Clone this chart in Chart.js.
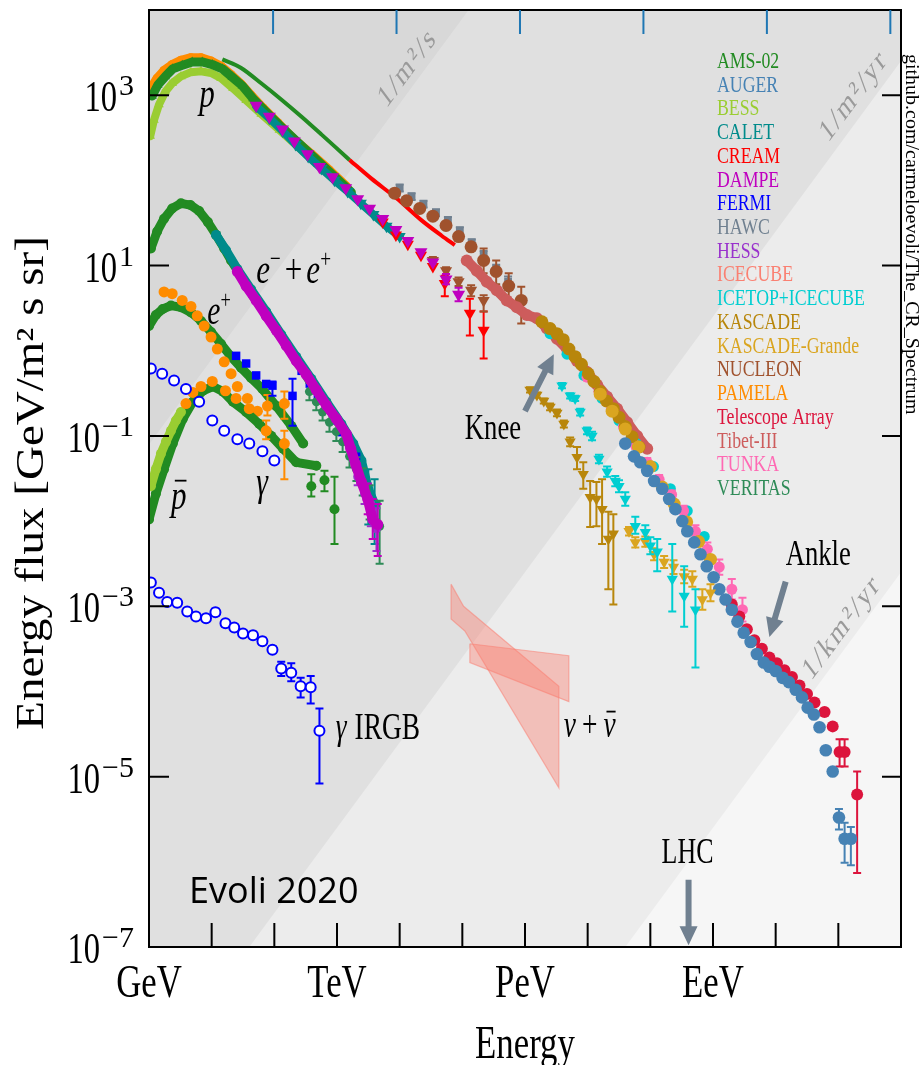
<!DOCTYPE html>
<html>
<head>
<meta charset="utf-8">
<title>The cosmic-ray spectrum</title>
<script src="https://cdn.jsdelivr.net/npm/chart.js@4.4.1/dist/chart.umd.min.js"></script>
<style>
  html, body { margin: 0; padding: 0; background: #fff; }
  canvas { display: block; }
</style>
</head>
<body>
<canvas id="chart" width="920" height="1065"></canvas>
<script>
// every value below is a log10: energy in GeV, energy flux E^2 J in GeV / m^2 s sr

// constant-rate lines (1/m^2/s, 1/m^2/yr, 1/km^2/yr), two end points each
const bandEdgeE = [-3, 14];
const edgeSecondF = [-4.1, 12.9];
const edgeYearF = [-11.6, 5.4];
const edgeKmYearF = [-17.6, -0.6];

// protons
const pamelaP_E = [0.03, 0.13, 0.24, 0.37, 0.51, 0.67, 0.83, 0.99, 1.15, 1.31, 1.47, 1.63, 1.82, 2.05, 2.30, 2.59, 2.88, 3.15];
const pamelaP_F = [3.08, 3.20, 3.29, 3.36, 3.41, 3.44, 3.44, 3.40, 3.34, 3.24, 3.13, 3.00, 2.85, 2.68, 2.49, 2.31, 2.12, 1.93];
const amsP_E = [0.05, 0.14, 0.26, 0.38, 0.53, 0.69, 0.85, 1.01, 1.17, 1.33, 1.49, 1.66, 1.86, 2.08, 2.34, 2.62, 2.91, 3.23];
const amsP_F = [2.99, 3.12, 3.22, 3.31, 3.35, 3.39, 3.39, 3.36, 3.31, 3.21, 3.11, 2.96, 2.81, 2.65, 2.47, 2.28, 2.08, 1.86];
const bessP_E = [0.02, 0.08, 0.16, 0.26, 0.37, 0.51, 0.67, 0.83, 0.99, 1.15, 1.34, 1.55, 1.79, 2.08, 2.40, 2.69];
const bessP_F = [2.52, 2.71, 2.89, 3.04, 3.14, 3.22, 3.27, 3.28, 3.26, 3.20, 3.08, 2.94, 2.78, 2.59, 2.38, 2.19];
const caletP_E = [1.71, 1.92, 2.13, 2.34, 2.54, 2.75, 2.96, 3.17, 3.38, 3.58, 3.79, 4.0];
const caletP_F = [2.87, 2.73, 2.58, 2.42, 2.28, 2.14, 2.0, 1.87, 1.73, 1.6, 1.46, 1.34];
const dampeP_E = [1.71, 1.92, 2.13, 2.32, 2.53, 2.72, 2.93, 3.14, 3.33, 3.52, 3.73, 3.94, 4.13, 4.34, 4.53, 4.74, 4.94];
const dampeP_F = [2.88, 2.75, 2.6, 2.46, 2.31, 2.16, 2.04, 1.91, 1.78, 1.67, 1.55, 1.42, 1.29, 1.16, 1.04, 0.84, 0.66];
const dampeP_hi = [null, null, null, null, null, null, null, null, null, null, null, null, null, null, null, 0.90, 0.74];
const dampeP_lo = [null, null, null, null, null, null, null, null, null, null, null, null, null, null, null, 0.78, 0.58];
const creamP_E = [3.73, 3.94, 4.13, 4.34, 4.53, 4.72, 5.12, 5.34];
const creamP_F = [1.51, 1.36, 1.25, 1.12, 0.99, 0.79, 0.44, 0.24];
const creamP_hi = [null, null, null, null, null, 0.88, 0.61, 0.46];
const creamP_lo = [null, null, null, null, null, 0.64, 0.18, -0.09];
const nucleonP_E = [4.53, 4.74, 4.94, 5.14, 5.34];
const nucleonP_F = [1.06, 0.94, 0.81, 0.71, 0.59];
const nucleonP_hi = [1.1, 0.98, 0.86, 0.77, 0.65];
const nucleonP_lo = [1.02, 0.9, 0.76, 0.64, 0.46];

// all-particle
const amsAll_E = [1.17, 1.47, 1.79, 2.11, 2.43, 2.75, 3.2];
const amsAll_F = [3.42, 3.32, 3.14, 2.95, 2.75, 2.54, 2.24];
const creamAll_E = [3.2, 3.55, 3.95, 4.35, 4.67, 4.88];
const creamAll_F = [2.24, 2.02, 1.79, 1.53, 1.35, 1.24];
const hawc_E = [4.0, 4.19, 4.38, 4.58, 4.77, 4.96, 5.15, 5.34, 5.54, 5.73];
const hawc_F = [1.91, 1.81, 1.72, 1.62, 1.53, 1.41, 1.27, 1.12, 0.96, 0.81];
const hawc_hi = [1.95, 1.85, 1.76, 1.66, 1.57, 1.45, 1.31, 1.17, 1.01, 0.87];
const hawc_lo = [1.87, 1.77, 1.68, 1.58, 1.49, 1.37, 1.23, 1.07, 0.91, 0.75];
const nucleonAll_E = [3.92, 4.11, 4.32, 4.53, 4.74, 4.94, 5.14, 5.34, 5.54, 5.74, 5.94];
const nucleonAll_F = [1.85, 1.76, 1.67, 1.58, 1.47, 1.34, 1.22, 1.06, 0.93, 0.76, 0.59];
const nucleonAll_hi = [null, null, null, null, null, null, null, 1.2, 1.06, 0.91, 0.75];
const nucleonAll_lo = [null, null, null, null, null, null, null, 0.91, 0.78, 0.59, 0.32];
const tibet_E = [5.07, 5.23, 5.39, 5.55, 5.71, 5.87, 6.03, 6.19, 6.35, 6.51, 6.67, 6.83, 6.99, 7.15, 7.31, 7.47, 7.63, 7.79, 7.95];
const tibet_F = [1.06, 0.94, 0.81, 0.71, 0.59, 0.51, 0.42, 0.38, 0.26, 0.14, 0.02, -0.12, -0.25, -0.40, -0.54, -0.68, -0.84, -1.0, -1.15];
const kascade_E = [6.27, 6.4, 6.51, 6.61, 6.7, 6.8, 6.9, 7.01, 7.1, 7.2, 7.3, 7.41, 7.5, 7.6, 7.71, 7.82];
const kascade_F = [0.34, 0.26, 0.2, 0.13, 0.02, -0.07, -0.16, -0.27, -0.36, -0.48, -0.59, -0.68, -0.78, -0.89, -1.01, -1.13];
const grande_E = [7.2, 7.39, 7.6, 7.81, 8.0, 8.19, 8.38, 8.58, 8.77, 8.96];
const grande_F = [-0.51, -0.71, -0.92, -1.13, -1.36, -1.6, -1.8, -2.01, -2.24, -2.45];
const tunka_E = [6.99, 7.18, 7.38, 7.57, 7.76, 7.95, 8.14, 8.34, 8.53, 8.72, 8.91, 9.1, 9.3, 9.47];
const tunka_F = [-0.31, -0.48, -0.68, -0.89, -1.11, -1.31, -1.51, -1.69, -1.88, -2.12, -2.33, -2.54, -2.8, -3.04];
const tunka_hi = [-0.27, -0.44, -0.64, -0.85, -1.07, -1.26, -1.46, -1.64, -1.82, -2.05, -2.25, -2.45, -2.68, -2.9];
const tunka_lo = [-0.35, -0.52, -0.72, -0.93, -1.15, -1.36, -1.56, -1.74, -1.94, -2.19, -2.41, -2.63, -2.92, -3.18];
const icetop_E = [6.4, 6.67, 6.94, 7.23, 7.5, 7.78, 8.05, 8.32, 8.59, 8.86];
const icetop_F = [0.2, -0.04, -0.29, -0.56, -0.82, -1.09, -1.36, -1.62, -1.88, -2.18];
const auger_E = [7.6, 7.74, 7.84, 7.95, 8.06, 8.19, 8.3, 8.4, 8.51, 8.59, 8.7, 8.8, 8.9, 9.01, 9.1, 9.2, 9.3, 9.39, 9.49, 9.6,
  9.7, 9.81, 9.9, 10.0, 10.11, 10.21, 10.32, 10.42, 10.51, 10.61, 10.7, 10.8, 10.91, 11.01, 11.1, 11.2];
const auger_F = [-1.09, -1.24, -1.31, -1.41, -1.53, -1.62, -1.74, -1.86, -2.0, -2.12, -2.25, -2.39, -2.53, -2.66, -2.8, -2.92, -3.04, -3.18, -3.31, -3.42,
  -3.56, -3.66, -3.71, -3.76, -3.84, -3.89, -3.98, -4.07, -4.19, -4.27, -4.42, -4.69, -4.94, -5.48, -5.73, -5.73];
const auger_hi = [null, null, null, null, null, null, null, null, null, null, null, null, null, null, null, null, null, null, null, null,
  null, null, null, null, null, null, null, null, null, null, null, null, null, -5.38, -5.54, -5.59];
const auger_lo = [null, null, null, null, null, null, null, null, null, null, null, null, null, null, null, null, null, null, null, null,
  null, null, null, null, null, null, null, null, null, null, null, null, null, -5.62, -6.01, -6.04];
const ta_E = [9.3, 9.42, 9.54, 9.66, 9.78, 9.9, 10.02, 10.14, 10.26, 10.38, 10.5, 10.62, 10.78, 10.91, 11.02, 11.1, 11.3];
const ta_F = [-2.98, -3.12, -3.27, -3.4, -3.5, -3.6, -3.67, -3.75, -3.83, -3.93, -4.03, -4.13, -4.24, -4.41, -4.71, -4.71, -5.21];
const ta_hi = [null, null, null, null, null, null, null, null, null, null, null, null, null, null, -4.56, -4.56, -4.94];
const ta_lo = [null, null, null, null, null, null, null, null, null, null, null, null, null, null, -4.88, -4.88, -6.13];

// light component around the knee
const kascadeL_E = [6.08, 6.19, 6.3, 6.4, 6.51, 6.62, 6.72, 6.83, 6.93, 7.04, 7.14, 7.23, 7.33, 7.41];
const kascadeL_F = [-0.46, -0.52, -0.59, -0.66, -0.73, -0.86, -1.07, -1.25, -1.45, -1.72, -1.74, -1.86, -2.21, -2.15];
const kascadeL_hi = [-0.43, -0.49, -0.56, -0.62, -0.69, -0.82, -1.02, -1.13, -1.31, -1.53, -1.54, -1.51, -1.89, -1.92];
const kascadeL_lo = [-0.49, -0.55, -0.62, -0.7, -0.77, -0.9, -1.12, -1.39, -1.62, -2.07, -2.06, -2.27, -2.8, -2.98];
const grandeL_E = [7.66, 7.76, 7.92, 8.06, 8.22, 8.37, 8.54, 8.67, 8.83, 8.96];
const grandeL_F = [-2.12, -2.25, -2.24, -2.39, -2.48, -2.54, -2.65, -2.68, -2.92, -2.84];
const grandeL_hi = [-2.07, -2.19, -2.18, -2.32, -2.41, -2.46, -2.57, -2.59, -2.8, -2.74];
const grandeL_lo = [-2.17, -2.31, -2.30, -2.46, -2.55, -2.62, -2.73, -2.77, -3.04, -2.94];
const icetopL_E = [6.59, 6.72, 6.8, 6.88, 6.99, 7.07, 7.18, 7.31, 7.44, 7.5, 7.6, 7.76, 7.92, 8.0, 8.11, 8.35, 8.54, 8.72];
const icetopL_F = [-0.41, -0.53, -0.56, -0.72, -0.94, -1.0, -1.27, -1.42, -1.53, -1.59, -1.74, -2.06, -2.13, -2.29, -2.36, -2.68, -2.88, -3.04];
const icetopL_hi = [-0.38, -0.5, -0.53, -0.68, -0.9, -0.95, -1.22, -1.36, -1.47, -1.52, -1.66, -1.95, -2.05, -2.19, -2.21, -2.27, -2.53, -2.8];
const icetopL_lo = [-0.44, -0.56, -0.59, -0.76, -0.98, -1.05, -1.32, -1.48, -1.59, -1.66, -1.82, -2.15, -2.21, -2.39, -2.59, -3.06, -3.24, -3.72];

// electrons + positrons
const amsEE_E = [0.03, 0.13, 0.24, 0.37, 0.51, 0.66, 0.8, 0.94, 1.07, 1.2, 1.31, 1.49, 1.66, 1.86, 2.06, 2.3, 2.54, 2.78, 3.02];
const amsEE_F = [1.2, 1.4, 1.55, 1.67, 1.73, 1.71, 1.64, 1.51, 1.36, 1.2, 1.06, 0.85, 0.65, 0.44, 0.21, -0.05, -0.32, -0.58, -0.84];
const caletEE_E = [1.07, 1.23, 1.41, 1.63, 1.87, 2.11, 2.35, 2.59, 2.83, 3.07, 3.26, 3.39, 3.5, 3.6];
const caletEE_F = [1.36, 1.18, 0.96, 0.72, 0.46, 0.19, -0.07, -0.33, -0.6, -0.86, -1.09, -1.29, -1.62, -1.8];
const caletEE_hi = [null, null, null, null, null, null, null, null, null, null, null, null, -1.39, -1.51];
const caletEE_lo = [null, null, null, null, null, null, null, null, null, null, null, null, -2.04, -2.27];
const dampeEE_E = [1.41, 1.55, 1.71, 1.87, 2.03, 2.19, 2.35, 2.51, 2.67, 2.83, 2.99, 3.15, 3.22, 3.3, 3.39, 3.49, 3.57, 3.65];
const dampeEE_F = [0.93, 0.76, 0.59, 0.41, 0.24, 0.06, -0.12, -0.28, -0.46, -0.64, -0.8, -0.98, -1.15, -1.34, -1.54, -1.74, -1.98, -2.04];
const dampeEE_hi = [null, null, null, null, null, null, null, null, null, null, null, null, null, null, null, -1.56, -1.74, -1.8];
const dampeEE_lo = [null, null, null, null, null, null, null, null, null, null, null, null, null, null, null, -1.92, -2.21, -2.41];
const fermiEE_E = [2.43, 2.56, 2.69, 2.82, 2.94, 3.07, 3.2, 3.31];
const fermiEE_F = [-0.24, -0.39, -0.53, -0.68, -0.82, -0.96, -1.11, -1.24];
const hessEE_E = [3.33, 3.44, 3.54, 3.63];
const hessEE_F = [-1.48, -1.68, -1.92, -2.09];
const hessEE_hi = [-1.38, -1.56, -1.78, -1.85];
const hessEE_lo = [-1.58, -1.8, -2.06, -2.35];
const veritasEE_E = [2.56, 2.67, 2.77, 2.88, 2.99, 3.09, 3.2, 3.31, 3.41, 3.52, 3.68];
const veritasEE_F = [-0.48, -0.6, -0.72, -0.84, -0.95, -1.07, -1.24, -1.39, -1.54, -1.78, -2.06];
const veritasEE_hi = [-0.38, -0.5, -0.62, -0.73, -0.84, -0.95, -1.11, -1.25, -1.38, -1.58, -1.76];
const veritasEE_lo = [-0.58, -0.7, -0.82, -0.95, -1.06, -1.19, -1.37, -1.53, -1.7, -1.98, -2.5];

// positrons
const pamelaPos_E = [0.24, 0.37, 0.53, 0.67, 0.77, 0.88, 0.99, 1.09, 1.2, 1.31, 1.41, 1.57, 1.73, 1.89, 2.16];
const pamelaPos_F = [0.69, 0.67, 0.59, 0.52, 0.41, 0.29, 0.16, 0.02, -0.13, -0.27, -0.42, -0.56, -0.71, -0.65, -0.62];
const pamelaPos_hi = [null, null, null, null, null, null, null, null, null, null, null, null, null, -0.52, -0.48];
const pamelaPos_lo = [null, null, null, null, null, null, null, null, null, null, null, null, null, -0.76, -0.8];
const amsPos_E = [0.0, 0.11, 0.22, 0.35, 0.51, 0.67, 0.83, 0.99, 1.15, 1.31, 1.47, 1.63, 1.81, 2.03, 2.27, 2.46];
const amsPos_F = [0.29, 0.42, 0.49, 0.53, 0.51, 0.45, 0.35, 0.22, 0.08, -0.07, -0.2, -0.32, -0.45, -0.65, -0.88, -1.09];
const amsPosHigh_E = [2.59, 2.8, 2.96];
const amsPosHigh_F = [-1.59, -1.52, -1.86];
const amsPosHigh_hi = [-1.45, -1.41, -1.48];
const amsPosHigh_lo = [-1.71, -1.65, -2.27];
const fermiPos_E = [1.39, 1.55, 1.71, 1.87, 1.97, 2.29];
const fermiPos_F = [-0.06, -0.15, -0.29, -0.39, -0.41, -0.53];
const fermiPos_hi = [null, null, null, null, -0.36, -0.33];
const fermiPos_lo = [null, null, null, null, -0.53, -0.88];

// antiprotons
const bessPbar_E = [0.03, 0.11, 0.19, 0.27, 0.35, 0.43, 0.51];
const bessPbar_F = [-1.59, -1.39, -1.21, -1.07, -0.94, -0.82, -0.72];
const pamelaPbar_E = [0.59, 0.7, 0.83, 1.01, 1.22, 1.39, 1.6, 1.87, 2.16];
const pamelaPbar_F = [-0.62, -0.49, -0.42, -0.36, -0.47, -0.56, -0.68, -0.94, -1.09];
const pamelaPbar_hi = [null, null, null, null, null, null, null, -0.82, -0.94];
const pamelaPbar_lo = [null, null, null, null, null, null, null, -1.04, -1.51];
const amsPbar_E = [0, 0.11, 0.24, 0.38, 0.54, 0.7, 0.86, 1.02, 1.18, 1.34, 1.55, 1.76, 1.95, 2.14, 2.35, 2.67];
const amsPbar_F = [-1.98, -1.68, -1.39, -1.09, -0.8, -0.6, -0.47, -0.42, -0.48, -0.6, -0.72, -0.86, -1.0, -1.15, -1.31, -1.35];

// gamma rays
const fermiGamma_E = [0.03, 0.21, 0.4, 0.59, 0.8, 1.01, 1.2, 1.41, 1.6, 1.81, 2.0];
const fermiGamma_F = [-0.21, -0.27, -0.35, -0.45, -0.6, -0.82, -0.94, -1.04, -1.09, -1.18, -1.29];
const irgb_E = [0.03, 0.16, 0.29, 0.45, 0.61, 0.75, 0.91, 1.06, 1.22, 1.36, 1.5, 1.66, 1.81, 1.97, 2.11, 2.27, 2.42, 2.58, 2.72];
const irgb_F = [-2.72, -2.84, -2.95, -2.96, -3.06, -3.12, -3.14, -3.07, -3.2, -3.25, -3.32, -3.34, -3.41, -3.51, -3.73, -3.78, -3.94, -3.95, -4.46];
const irgb_hi = [-2.68, -2.8, -2.91, -2.92, -3.02, -3.08, -3.1, -3.03, -3.16, -3.21, -3.28, -3.3, -3.37, -3.47, -3.65, -3.67, -3.84, -3.82, -4.2];
const irgb_lo = [-2.76, -2.88, -2.99, -3.0, -3.1, -3.16, -3.18, -3.11, -3.24, -3.29, -3.36, -3.38, -3.45, -3.55, -3.82, -3.88, -4.07, -4.14, -5.08];

// neutrino bands (closed outlines)
const nuA_E = [4.82, 5.02, 6.54, 6.54, 5.04, 4.82, 4.82];
const nuA_F = [-2.74, -3.0, -3.94, -5.13, -3.29, -3.15, -2.74];
const nuB_E = [5.12, 6.7, 6.7, 5.12, 5.12];
const nuB_F = [-3.44, -3.58, -4.12, -3.66, -3.44];

// axes
const xTickDecades = [1, 2, 3, 4, 5, 6, 7, 8, 9, 10, 11];
const xLabelDecades = [0, 3, 6, 9];
const xLabels = ['GeV', 'TeV', 'PeV', 'EeV'];
const yTickDecades = [-7, -5, -3, -1, 1, 3];
const topTickDecades = [1.98, 3.95, 5.92, 7.89, 9.86, 11.83];

const legendNames = ['AMS-02', 'AUGER', 'BESS', 'CALET', 'CREAM', 'DAMPE', 'FERMI', 'HAWC', 'HESS', 'ICECUBE',
  'ICETOP+ICECUBE', 'KASCADE', 'KASCADE-Grande', 'NUCLEON', 'PAMELA', 'Telescope Array', 'Tibet-III', 'TUNKA', 'VERITAS'];
const legendColors = ['#228b22', '#4682b4', '#9acd32', '#008b8b', '#ff0000', '#bf00bf', '#0000ff', '#708090', '#9932cc', '#fa8072',
  '#00ced1', '#b8860b', '#daa520', '#a0522d', '#ff8c00', '#dc143c', '#cd5c5c', '#ff69b4', '#2e8b57'];
const col = Object.fromEntries(legendNames.map((n, i) => [n, legendColors[i]]));

const rateLabels = ['1/m²/s', '1/m²/yr', '1/km²/yr'];
const rateLabelAt = [[4.13, 3.32], [11.25, 2.99], [11.06, -3.25]];

const arrowTail = [[6.0, -0.71], [10.16, -2.71], [8.61, -6.21]];
const arrowTip = [[6.46, -0.04], [9.9, -3.36], [8.61, -6.98]];

const SQ = 0.74;
const SERIF = '"Liberation Serif", "Times New Roman", serif';

const datasets = [];
const xy = (lgE, lgF) => lgE.map((e, i) => ({ x: 10 ** e, y: 10 ** lgF[i] }));

function band(lgF, color) {
  datasets.push({ data: xy(bandEdgeE, lgF), showLine: true, fill: 'end', backgroundColor: color,
    borderColor: 'rgba(0,0,0,0)', borderWidth: 0, pointRadius: 0 });
}
function outline(lgE, lgF) {
  datasets.push({ data: xy(lgE, lgF), showLine: true, fill: 'shape', backgroundColor: 'rgba(250,128,114,0.42)',
    borderColor: 'rgba(250,128,114,0.55)', borderWidth: 1.2, pointRadius: 0 });
}
function curve(lgE, lgF, color, width) {
  datasets.push({ data: xy(lgE, lgF), showLine: true, fill: false, borderColor: color, borderWidth: width,
    tension: 0.3, pointRadius: 0, borderCapStyle: 'butt' });
}
function marks(lgE, lgF, color, o = {}) {
  datasets.push({
    data: xy(lgE, lgF),
    showLine: !!o.line, borderWidth: o.line || 0, borderColor: color, fill: false,
    borderJoinStyle: 'round', borderCapStyle: 'round',
    pointStyle: o.shape || 'circle', pointRotation: o.down ? 180 : 0,
    pointRadius: o.r || 5,
    pointBackgroundColor: o.open ? '#fff' : color,
    pointBorderColor: color, pointBorderWidth: o.open ? 2 : 0,
    errHi: o.hi, errLo: o.lo
  });
}

// shaded bands, darkest last
band(edgeKmYearF, '#ececec');
band(edgeYearF, '#e0e0e0');
band(edgeSecondF, '#d8d8d8');

outline(nuA_E, nuA_F);
outline(nuB_E, nuB_F);

curve(amsAll_E, amsAll_F, col['AMS-02'], 4);
curve(creamAll_E, creamAll_F, col['CREAM'], 4);

marks(pamelaP_E, pamelaP_F, col['PAMELA'], { r: 4.5, line: 9 });
marks(bessP_E, bessP_F, col['BESS'], { shape: 'triangle', r: 5.5, line: 8 });
marks(amsP_E, amsP_F, col['AMS-02'], { shape: 'triangle', r: 5.5, line: 9 });
marks(caletP_E, caletP_F, col['CALET'], { shape: 'triangle', down: true, r: 7, line: 8 });
marks(creamP_E, creamP_F, col['CREAM'], { shape: 'triangle', down: true, r: 7, hi: creamP_hi, lo: creamP_lo });
marks(nucleonP_E, nucleonP_F, col['NUCLEON'], { shape: 'triangle', down: true, r: 7, hi: nucleonP_hi, lo: nucleonP_lo });
marks(dampeP_E, dampeP_F, col['DAMPE'], { shape: 'triangle', down: true, r: 7.5, hi: dampeP_hi, lo: dampeP_lo });

marks(hawc_E, hawc_F, col['HAWC'], { shape: 'rect', r: 5.5, hi: hawc_hi, lo: hawc_lo });
marks(nucleonAll_E, nucleonAll_F, col['NUCLEON'], { r: 6.5, hi: nucleonAll_hi, lo: nucleonAll_lo });
marks(tibet_E, tibet_F, col['Tibet-III'], { r: 6, line: 10 });
marks(icetop_E, icetop_F, col['ICETOP+ICECUBE'], { r: 5.5 });
marks(tunka_E, tunka_F, col['TUNKA'], { r: 5.5, hi: tunka_hi, lo: tunka_lo });
marks(kascade_E, kascade_F, col['KASCADE'], { r: 6.5 });
marks(grande_E, grande_F, col['KASCADE-Grande'], { r: 6.5 });
marks(ta_E, ta_F, col['Telescope Array'], { r: 6, hi: ta_hi, lo: ta_lo });
marks(auger_E, auger_F, col['AUGER'], { r: 6.3, hi: auger_hi, lo: auger_lo });

marks(kascadeL_E, kascadeL_F, col['KASCADE'], { shape: 'triangle', down: true, r: 6.5, hi: kascadeL_hi, lo: kascadeL_lo });
marks(grandeL_E, grandeL_F, col['KASCADE-Grande'], { shape: 'triangle', down: true, r: 6.5, hi: grandeL_hi, lo: grandeL_lo });
marks(icetopL_E, icetopL_F, col['ICETOP+ICECUBE'], { shape: 'triangle', down: true, r: 6.5, hi: icetopL_hi, lo: icetopL_lo });

marks(amsEE_E, amsEE_F, col['AMS-02'], { r: 5, line: 9 });
marks(caletEE_E, caletEE_F, col['CALET'], { r: 5, line: 9, hi: caletEE_hi, lo: caletEE_lo });
marks(fermiEE_E, fermiEE_F, col['FERMI'], { shape: 'rect', r: 5.5 });
marks(veritasEE_E, veritasEE_F, col['VERITAS'], { r: 4.5, hi: veritasEE_hi, lo: veritasEE_lo });
marks(hessEE_E, hessEE_F, col['HESS'], { r: 4.5, hi: hessEE_hi, lo: hessEE_lo });
marks(dampeEE_E, dampeEE_F, col['DAMPE'], { r: 5.5, line: 10, hi: dampeEE_hi, lo: dampeEE_lo });

marks(amsPos_E, amsPos_F, col['AMS-02'], { r: 5, line: 9 });
marks(amsPosHigh_E, amsPosHigh_F, col['AMS-02'], { r: 5, hi: amsPosHigh_hi, lo: amsPosHigh_lo });
marks(pamelaPos_E, pamelaPos_F, col['PAMELA'], { r: 5.5, hi: pamelaPos_hi, lo: pamelaPos_lo });
marks(fermiPos_E, fermiPos_F, col['FERMI'], { shape: 'rect', r: 6, hi: fermiPos_hi, lo: fermiPos_lo });

marks(amsPbar_E, amsPbar_F, col['AMS-02'], { r: 5, line: 9 });
marks(bessPbar_E, bessPbar_F, col['BESS'], { r: 5, line: 9 });
marks(pamelaPbar_E, pamelaPbar_F, col['PAMELA'], { r: 5.5, hi: pamelaPbar_hi, lo: pamelaPbar_lo });

marks(fermiGamma_E, fermiGamma_F, col['FERMI'], { r: 5, open: true });
marks(irgb_E, irgb_F, col['FERMI'], { r: 5, open: true, hi: irgb_hi, lo: irgb_lo });

// later entries sit on top
datasets.forEach((d, i) => { d.order = datasets.length - i; });

function squeezed(ctx, str, x, y, font, align = 'left', rot = 0, sq = SQ) {
  ctx.save();
  ctx.translate(x, y);
  ctx.scale(sq, 1);
  ctx.rotate(rot);
  ctx.font = font;
  ctx.textAlign = align;
  ctx.fillText(str, 0, 0);
  ctx.restore();
}

// mixed runs of text: [text, style, gap after]; style may hold 'it', 'sup', 'bar'
function runs(ctx, x, y, size, parts) {
  let cx = x;
  for (const [t, st = '', gap = 0] of parts) {
    const sup = st.includes('sup');
    const sz = sup ? size * 0.62 : size;
    const font = (st.includes('it') ? 'italic ' : '') + sz + 'px ' + SERIF;
    ctx.font = font;
    const w = ctx.measureText(t).width * SQ;
    squeezed(ctx, t, cx, sup ? y - size * 0.4 : y, font);
    if (st.includes('bar')) ctx.fillRect(cx + w * 0.25, y - size * 0.7, w * 0.75, 1.8);
    cx += w + gap;
  }
}

function arrow(ctx, x0, y0, x1, y1) {
  const ang = Math.atan2(y1 - y0, x1 - x0), len = Math.hypot(x1 - x0, y1 - y0);
  ctx.save();
  ctx.translate(x0, y0);
  ctx.rotate(ang);
  ctx.fillStyle = '#708090';
  ctx.beginPath();
  ctx.moveTo(0, -3); ctx.lineTo(len - 19, -3); ctx.lineTo(len - 19, -9); ctx.lineTo(len, 0);
  ctx.lineTo(len - 19, 9); ctx.lineTo(len - 19, 3); ctx.lineTo(0, 3);
  ctx.closePath();
  ctx.fill();
  ctx.restore();
}

const decor = {
  id: 'decor',
  beforeDatasetsDraw(chart) {
    const { ctx, chartArea: a } = chart;
    ctx.save();
    ctx.fillStyle = '#f6f6f6';
    ctx.fillRect(a.left, a.top, a.width, a.height);
    ctx.restore();
  },
  beforeDatasetDraw(chart, args) {
    const ds = chart.data.datasets[args.index];
    if (!ds.errHi) return;
    const { ctx, chartArea: a } = chart;
    const ys = chart.scales.y;
    ctx.save();
    ctx.beginPath();
    ctx.rect(a.left, a.top, a.width, a.height);
    ctx.clip();
    ctx.strokeStyle = ds.borderColor;
    ctx.lineWidth = 2;
    ds.errHi.forEach((h, i) => {
      if (h == null) return;
      const x = args.meta.data[i].x;
      const yh = ys.getPixelForValue(10 ** h), yl = ys.getPixelForValue(10 ** ds.errLo[i]);
      ctx.beginPath();
      ctx.moveTo(x, yh); ctx.lineTo(x, yl);
      ctx.moveTo(x - 4, yh); ctx.lineTo(x + 4, yh);
      ctx.moveTo(x - 4, yl); ctx.lineTo(x + 4, yl);
      ctx.stroke();
    });
    ctx.restore();
  },
  afterDatasetsDraw(chart) {
    const { ctx, chartArea: a } = chart;
    const xs = chart.scales.x, ys = chart.scales.y;
    const px = (e) => xs.getPixelForValue(10 ** e);
    const py = (f) => ys.getPixelForValue(10 ** f);
    ctx.save();
    ctx.textBaseline = 'alphabetic';

    // constant-rate line labels
    const ang = -Math.atan2(py(0) - py(1), (px(1) - px(0)) / SQ);
    ctx.fillStyle = '#9a9a9a';
    rateLabels.forEach((t, i) => {
      ctx.save();
      ctx.letterSpacing = '3px';
      ctx.textBaseline = 'middle';
      squeezed(ctx, t, px(rateLabelAt[i][0]), py(rateLabelAt[i][1]), '32px ' + SERIF, 'center', ang);
      ctx.restore();
    });

    // frame and inward ticks
    ctx.strokeStyle = '#000';
    ctx.lineWidth = 2;
    ctx.strokeRect(a.left, a.top, a.width, a.height);
    ctx.beginPath();
    xTickDecades.forEach(d => { const x = px(d); ctx.moveTo(x, a.bottom); ctx.lineTo(x, a.bottom - 24); });
    yTickDecades.forEach(d => {
      const y = py(d);
      ctx.moveTo(a.left, y); ctx.lineTo(a.left + 20, y);
      ctx.moveTo(a.right, y); ctx.lineTo(a.right - 19, y);
    });
    ctx.stroke();
    ctx.strokeStyle = '#1f77b4';
    ctx.beginPath();
    topTickDecades.forEach(d => { const x = px(d); ctx.moveTo(x, a.top); ctx.lineTo(x, a.top + 24); });
    ctx.stroke();

    // tick labels and axis titles
    ctx.fillStyle = '#000';
    yTickDecades.forEach(d => {
      const y = py(d);
      const exp = d < 0 ? '\u2212' + (-d) : String(d);
      ctx.font = '30px ' + SERIF;
      const ew = ctx.measureText(exp).width;
      const right = a.left - 15;
      ctx.textAlign = 'left';
      ctx.fillText(exp, right - ew, y);
      squeezed(ctx, '10', right - ew - 2, y + 16, '44px ' + SERIF, 'right');
    });
    xLabelDecades.forEach((d, i) => squeezed(ctx, xLabels[i], px(d), a.bottom + 50, '47px ' + SERIF, 'center'));
    squeezed(ctx, 'Energy', (a.left + a.right) / 2, a.bottom + 111, '47px ' + SERIF, 'center');
    ctx.save();
    ctx.textBaseline = 'middle';
    squeezed(ctx, 'Energy flux [GeV/m² s sr]', 33, 483, '47px ' + SERIF, 'center', -Math.PI / 2, 0.84);
    ctx.restore();
    squeezed(ctx, 'github.com/carmeloevoli/The_CR_Spectrum', a.right + 5, a.top + 44, '20px ' + SERIF, 'left', Math.PI / 2, 0.95);

    // legend
    legendNames.forEach((n, i) => {
      ctx.fillStyle = legendColors[i];
      squeezed(ctx, n, a.right - 184, a.top + 58 + i * 23.72, '24px ' + SERIF);
    });

    // annotations
    ctx.fillStyle = '#000';
    runs(ctx, px(0.8), py(2.86), 42, [['p', 'it']]);
    runs(ctx, px(1.71), py(0.79), 42, [['e', 'it'], ['\u2212', 'sup', 4], ['+', '', 4], ['e', 'it'], ['+', 'sup']]);
    runs(ctx, px(0.93), py(0.31), 40, [['e', 'it'], ['+', 'sup']]);
    runs(ctx, px(0.35), py(-1.86), 42, [['p', 'it bar']]);
    runs(ctx, px(1.71), py(-1.69), 40, [['γ', 'it']]);
    runs(ctx, px(2.98), py(-4.56), 37, [['γ', 'it', 8], ['IRGB', '']]);
    runs(ctx, px(6.62), py(-4.53), 37, [['ν', 'it', 6], ['+', '', 6], ['ν', 'it bar']]);
    runs(ctx, px(5.04), py(-1.04), 36, [['Knee', '']]);
    runs(ctx, px(10.16), py(-2.51), 36, [['Ankle', '']]);
    runs(ctx, px(8.18), py(-6.01), 35, [['LHC', '']]);
    arrowTail.forEach((t, i) => arrow(ctx, px(t[0]), py(t[1]), px(arrowTip[i][0]), py(arrowTip[i][1])));

    ctx.font = '36px "Open Sans", "Noto Sans", sans-serif';
    ctx.textAlign = 'left';
    ctx.fillText('Evoli 2020', a.left + 40, a.bottom - 44);
    ctx.restore();
  }
};

new Chart(document.getElementById('chart'), {
  type: 'line',
  data: { datasets },
  options: {
    responsive: false,
    animation: false,
    events: [],
    layout: { padding: { left: 149, right: 19, top: 10, bottom: 118 } },
    scales: {
      x: { type: 'logarithmic', min: 1, max: 1e12, display: false },
      y: { type: 'logarithmic', min: 1e-7, max: 1e4, display: false }
    },
    plugins: { legend: { display: false }, tooltip: { enabled: false } }
  },
  plugins: [decor]
});
</script>
</body>
</html>
